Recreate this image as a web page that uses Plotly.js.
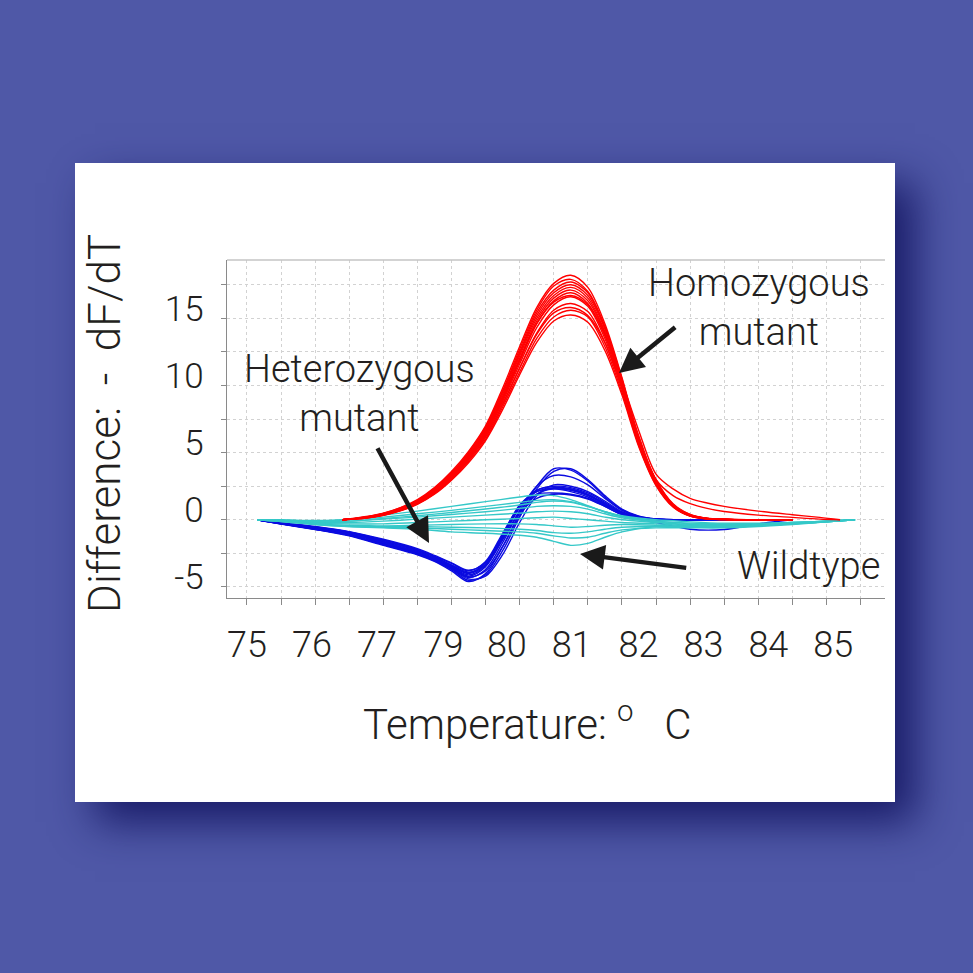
<!DOCTYPE html>
<html>
<head>
<meta charset="utf-8">
<script src="https://cdn.plot.ly/plotly-3.0.1.min.js"></script>
<style>
  html, body { margin: 0; padding: 0; background: #4F58A7; width: 973px; height: 973px; overflow: hidden; }
  #card { position: absolute; left: 75px; top: 163px; width: 820px; height: 639px; background: #ffffff;
          box-shadow: 20px 20px 40px rgba(22, 24, 100, 0.95); }
  #plot { position: absolute; left: 0; top: 0; width: 973px; height: 973px; }
</style>
</head>
<body>
<div id="card"></div>
<div id="plot"></div>
<script>
// ---------- tick labels ----------
const X_LABELS = ["75", "76", "77", "79", "80", "81", "82", "83", "84", "85"];
const Y_TICKS = [-5, 0, 5, 10, 15];
const Y_LABELS = ["-5", "0", "5", "10", "15"];

// ---------- Homozygous mutant (red) ----------
const RED_X = [76.4, 76.75, 77.0, 77.25, 77.5, 77.75, 78.0, 78.25, 78.5, 78.75, 79.0, 79.25, 79.5, 79.75, 80.0, 80.25, 80.5, 80.75, 81.0, 81.25, 81.5, 81.75, 82.0, 82.5, 83.0];
const RED_01 = [0, 0.25, 0.5, 0.9, 1.5, 2.4, 3.6, 5.1, 7.0, 9.8, 12.9, 15.8, 17.6, 18.2, 17.3, 14.6, 10.6, 6.1, 3.0, 1.2, 0.4, 0.12, 0.05, 0, 0];
const RED_02 = [0, 0.22, 0.48, 0.88, 1.45, 2.35, 3.5, 5.0, 6.9, 9.6, 12.7, 15.6, 17.4, 17.9, 17.0, 14.4, 10.5, 6.0, 2.95, 1.15, 0.38, 0.11, 0.04, 0, 0];
const RED_03 = [0, 0.2, 0.46, 0.85, 1.42, 2.3, 3.45, 4.95, 6.8, 9.5, 12.5, 15.4, 17.1, 17.7, 16.9, 14.3, 10.4, 5.95, 2.9, 1.12, 0.36, 0.1, 0.04, 0, 0];
const RED_04 = [0, 0.2, 0.45, 0.82, 1.38, 2.25, 3.4, 4.85, 6.7, 9.35, 12.35, 15.2, 16.9, 17.5, 16.7, 14.2, 10.3, 5.9, 2.85, 1.1, 0.35, 0.1, 0.03, 0, 0];
const RED_05 = [0, 0.18, 0.43, 0.8, 1.35, 2.2, 3.35, 4.8, 6.6, 9.2, 12.2, 15.0, 16.7, 17.3, 16.5, 14.0, 10.2, 5.85, 2.8, 1.08, 0.34, 0.1, 0.03, 0, 0];
const RED_06 = [0, 0.18, 0.42, 0.78, 1.32, 2.15, 3.3, 4.72, 6.5, 9.1, 12.0, 14.8, 16.5, 17.1, 16.3, 13.9, 10.1, 5.8, 2.78, 1.06, 0.33, 0.09, 0.03, 0, 0];
const RED_07 = [0, 0.17, 0.4, 0.76, 1.3, 2.1, 3.25, 4.65, 6.4, 8.95, 11.8, 14.6, 16.3, 16.9, 16.1, 13.7, 10.0, 5.75, 2.75, 1.05, 0.32, 0.09, 0.03, 0, 0];
const RED_08 = [0, 0.16, 0.38, 0.74, 1.27, 2.05, 3.2, 4.58, 6.3, 8.8, 11.6, 14.3, 16.0, 16.6, 15.9, 13.5, 9.9, 5.7, 2.7, 1.02, 0.3, 0.08, 0.02, 0, 0];
const RED_09 = [0, 0.15, 0.36, 0.7, 1.22, 2.0, 3.1, 4.45, 6.15, 8.6, 11.3, 13.9, 15.6, 16.1, 15.5, 13.2, 9.7, 5.6, 2.65, 1.0, 0.3, 0.08, 0.02, 0, 0];
const RED_10 = [0, 0.14, 0.34, 0.68, 1.18, 1.95, 3.0, 4.35, 6.0, 8.4, 11.0, 13.5, 15.1, 15.6, 15.1, 12.9, 9.5, 5.5, 2.6, 0.98, 0.28, 0.07, 0.02, 0, 0];
const RED_11 = [0, 0.14, 0.33, 0.66, 1.15, 1.9, 2.95, 4.25, 5.9, 8.2, 10.8, 13.2, 14.8, 15.25, 14.7, 12.6, 9.3, 5.4, 2.55, 0.95, 0.27, 0.07, 0.02, 0, 0];
// two curves with a long high-temperature tail
const RED_TAIL_X = [76.4, 76.75, 77.0, 77.25, 77.5, 77.75, 78.0, 78.25, 78.5, 78.75, 79.0, 79.25, 79.5, 79.75, 80.0, 80.25, 80.5, 80.75, 81.0, 81.25, 81.5, 81.75, 82.0, 82.5, 83.0, 83.4, 83.7];
const RED_T1 = [0, 0.18, 0.42, 0.78, 1.3, 2.1, 3.25, 4.7, 6.5, 9.0, 11.9, 14.6, 16.2, 16.7, 16.0, 13.8, 10.3, 6.6, 3.4, 2.3, 1.6, 1.25, 1.0, 0.65, 0.38, 0.18, 0];
const RED_T2 = [0, 0.16, 0.38, 0.72, 1.22, 2.0, 3.1, 4.5, 6.2, 8.6, 11.3, 13.8, 15.4, 15.8, 15.2, 13.2, 9.9, 6.2, 3.0, 1.8, 1.2, 0.85, 0.62, 0.35, 0.18, 0.05, 0];

// ---------- Heterozygous mutant (blue) ----------
const BLUE_X = [75.15, 75.5, 76.0, 76.5, 77.0, 77.5, 77.75, 78.0, 78.25, 78.5, 78.75, 79.0, 79.25, 79.5, 79.75, 80.0, 80.25, 80.5, 80.75, 81.0, 81.5, 82.0, 82.5, 83.0];
const BLUE_01 = [0, -0.3, -0.7, -1.2, -1.9, -2.6, -3.1, -3.8, -4.6, -4.0, -2.0, 0.5, 2.5, 3.8, 3.7, 2.9, 1.7, 0.75, 0.25, 0.06, 0, 0, 0, 0];
const BLUE_02 = [0, -0.32, -0.72, -1.15, -1.85, -2.55, -3.05, -3.7, -4.5, -4.1, -2.3, 0.2, 2.3, 3.6, 3.8, 3.0, 1.8, 0.8, 0.28, 0.07, 0, 0, 0, 0];
const BLUE_03 = [0, -0.3, -0.68, -1.1, -1.8, -2.5, -3.0, -3.6, -4.3, -3.7, -1.7, 0.7, 2.5, 3.3, 3.2, 2.6, 1.6, 0.7, 0.22, 0.05, 0, 0, 0, 0];
const BLUE_04 = [0, -0.28, -0.65, -1.05, -1.75, -2.45, -2.95, -3.55, -4.2, -3.5, -1.4, 0.9, 2.2, 2.5, 2.4, 2.0, 1.3, 0.55, 0.18, 0.04, 0, 0, 0, 0];
const BLUE_05 = [0, -0.27, -0.62, -1.0, -1.7, -2.4, -2.9, -3.5, -4.1, -3.4, -1.3, 1.0, 2.2, 2.45, 2.3, 1.9, 1.2, 0.5, 0.15, 0.03, 0, 0, 0, 0];
const BLUE_06 = [0, -0.26, -0.6, -0.98, -1.65, -2.35, -2.85, -3.45, -4.0, -3.3, -1.2, 1.0, 2.1, 2.35, 2.25, 1.85, 1.15, 0.45, 0.12, 0.03, 0, 0, 0, 0];
const BLUE_07 = [0, -0.25, -0.58, -0.95, -1.6, -2.3, -2.8, -3.4, -3.95, -3.2, -1.1, 1.1, 2.1, 2.3, 2.1, 1.7, 1.05, 0.4, 0.1, 0.02, 0, 0, 0, 0];
const BLUE_08 = [0, -0.24, -0.55, -0.92, -1.55, -2.25, -2.75, -3.35, -3.9, -3.35, -1.5, 0.6, 1.9, 2.4, 2.3, 1.9, 1.2, 0.5, 0.15, 0.03, 0, 0, 0, 0];
const BLUE_09 = [0, -0.23, -0.52, -0.9, -1.5, -2.2, -2.7, -3.25, -3.8, -3.1, -1.0, 1.0, 1.9, 2.0, 1.9, 1.6, 1.0, 0.4, 0.1, 0.02, 0, 0, 0, 0];
const BLUE_10 = [0, -0.22, -0.5, -0.88, -1.45, -2.15, -2.65, -3.2, -3.75, -3.2, -1.4, 0.5, 1.6, 1.9, 1.85, 1.55, 1.0, 0.4, 0.1, -0.2, -0.7, -0.72, -0.3, 0];
const BLUE_11 = [0, -0.3, -0.7, -1.15, -1.85, -2.55, -3.0, -3.65, -4.4, -4.2, -2.6, -0.2, 1.8, 2.6, 2.5, 2.1, 1.4, 0.6, 0.2, 0.05, 0, 0, 0, 0];
const BLUE_12 = [0, -0.26, -0.6, -1.0, -1.7, -2.4, -2.9, -3.5, -4.25, -3.8, -2.0, 0.3, 1.9, 2.3, 2.2, 1.8, 1.1, 0.45, 0.12, 0.02, 0, 0, 0, 0];

// ---------- Wildtype (cyan) ----------
const CYAN_X = [75.15, 75.5, 76.0, 76.5, 77.0, 77.5, 78.0, 78.5, 79.0, 79.25, 79.5, 79.75, 80.0, 80.25, 80.5, 81.0, 81.5, 82.0, 82.5, 83.0, 83.5, 83.92];
const CYAN_01 = [0, 0, -0.05, 0.05, 0.35, 0.65, 1.0, 1.35, 1.7, 1.85, 1.8, 1.5, 1.05, 0.6, 0.25, -0.1, -0.25, -0.3, -0.3, -0.2, -0.1, 0];
const CYAN_02 = [0, -0.02, -0.1, 0, 0.2, 0.45, 0.7, 1.0, 1.3, 1.45, 1.5, 1.35, 1.0, 0.6, 0.25, -0.1, -0.3, -0.35, -0.3, -0.2, -0.1, 0];
const CYAN_03 = [0, -0.05, -0.15, -0.1, 0.05, 0.2, 0.4, 0.6, 0.85, 1.0, 1.05, 1.0, 0.8, 0.45, 0.15, -0.15, -0.35, -0.4, -0.35, -0.25, -0.1, 0];
const CYAN_04 = [0, -0.05, -0.2, -0.2, -0.1, 0.05, 0.2, 0.35, 0.5, 0.6, 0.65, 0.6, 0.45, 0.2, 0, -0.2, -0.4, -0.45, -0.4, -0.25, -0.12, 0];
const CYAN_05 = [0, -0.08, -0.25, -0.3, -0.3, -0.2, -0.1, 0.0, 0.1, 0.15, 0.2, 0.1, 0.0, -0.1, -0.2, -0.3, -0.45, -0.5, -0.4, -0.3, -0.15, 0];
const CYAN_06 = [0, -0.1, -0.3, -0.4, -0.45, -0.4, -0.35, -0.3, -0.3, -0.35, -0.45, -0.55, -0.5, -0.4, -0.35, -0.4, -0.5, -0.55, -0.45, -0.3, -0.15, 0];
const CYAN_07 = [0, -0.1, -0.3, -0.45, -0.5, -0.5, -0.55, -0.6, -0.7, -0.8, -0.95, -1.0, -0.9, -0.7, -0.55, -0.5, -0.55, -0.55, -0.45, -0.3, -0.15, 0];
const CYAN_08 = [0, -0.12, -0.35, -0.5, -0.55, -0.6, -0.7, -0.8, -0.9, -1.0, -1.2, -1.35, -1.3, -1.0, -0.75, -0.6, -0.6, -0.6, -0.5, -0.35, -0.15, 0];
const CYAN_09 = [0, -0.12, -0.35, -0.5, -0.6, -0.7, -0.9, -1.0, -1.15, -1.3, -1.6, -1.9, -1.75, -1.3, -0.9, -0.5, -0.5, -0.5, -0.45, -0.3, -0.15, 0];
const CYAN_10 = [0, -0.05, -0.15, -0.1, 0.1, 0.3, 0.55, 0.8, 1.1, 1.3, 1.4, 1.3, 1.0, 0.6, 0.3, 0.0, -0.15, -0.25, -0.25, -0.2, -0.1, 0];

// ---------- build traces ----------
const FONT = "Roboto, 'Liberation Sans', Arial, sans-serif";
const TXT = "#231f20";
const groups = [
  { x: BLUE_X, ys: [BLUE_01, BLUE_02, BLUE_03, BLUE_04, BLUE_05, BLUE_06, BLUE_07, BLUE_08, BLUE_09, BLUE_10, BLUE_11, BLUE_12], color: "#0b0be0", name: "Heterozygous mutant" },
  { x: CYAN_X, ys: [CYAN_01, CYAN_02, CYAN_03, CYAN_04, CYAN_05, CYAN_06, CYAN_07, CYAN_08, CYAN_09, CYAN_10], color: "#35c8c8", name: "Wildtype" },
  { x: RED_X, ys: [RED_01, RED_02, RED_03, RED_04, RED_05, RED_06, RED_07, RED_08, RED_09, RED_10, RED_11], color: "#ff0000", name: "Homozygous mutant" },
  { x: RED_TAIL_X, ys: [RED_T1, RED_T2], color: "#ff0000", name: "Homozygous mutant" }
];
const traces = [];
groups.forEach(g => {
  g.ys.forEach(y => {
    traces.push({ type: "scatter", mode: "lines", x: g.x, y: y, name: g.name,
      line: { color: g.color, width: 1.4, shape: "spline", smoothing: 0.9 },
      hoverinfo: "skip", showlegend: false });
  });
});

const X_RANGE = [74.707, 84.359];
const X_LABEL_POS = [75.0, 75.953, 76.906, 77.883, 78.812, 79.765, 80.742, 81.695, 82.648, 83.601];
// invisible carrier so the label axis is drawn
traces.push({ type: "scatter", mode: "markers", x: [X_LABEL_POS[0]], y: [0], xaxis: "x2",
  marker: { opacity: 0 }, hoverinfo: "skip", showlegend: false });

const gridCol = "#d2d2d2";
const layout = {
  width: 973, height: 973,
  margin: { l: 227, r: 88, t: 260, b: 375 },
  paper_bgcolor: "rgba(0,0,0,0)",
  plot_bgcolor: "#ffffff",
  showlegend: false,
  font: { family: FONT, color: TXT, weight: 300 },
  xaxis: {
    range: X_RANGE, tick0: 75, dtick: 0.5, showticklabels: false,
    ticks: "outside", ticklen: 6, tickcolor: "#8a8a8a", tickwidth: 1,
    showgrid: true, gridcolor: gridCol, griddash: "3px,3px", gridwidth: 1,
    showline: true, linecolor: "#8a8a8a", linewidth: 1.3, zeroline: false
  },
  xaxis2: {
    overlaying: "x", anchor: "y", side: "bottom", range: X_RANGE,
    tickmode: "array", tickvals: X_LABEL_POS, ticktext: X_LABELS,
    ticks: "", showgrid: false, showline: false, zeroline: false,
    tickfont: { size: 36, family: FONT, color: TXT, weight: 300 },
    ticklabelstandoff: 22
  },
  yaxis: {
    range: [-5.82, 19.34], tickmode: "array", tickvals: Y_TICKS, ticktext: Y_LABELS,
    ticks: "outside", ticklen: 5, tickcolor: "#8a8a8a",
    showgrid: true, gridcolor: gridCol, griddash: "3px,3px", gridwidth: 1,
    showline: true, linecolor: "#8a8a8a", linewidth: 1.3, zeroline: false,
    tickfont: { size: 35, family: FONT, color: TXT, weight: 300 },
    ticklabelstandoff: 10, ticklabelshift: -10,
    minor: { tickvals: [-2.5, 2.5, 7.5, 12.5, 17.5], ticks: "outside", ticklen: 5, tickcolor: "#8a8a8a",
             showgrid: true, gridcolor: gridCol, griddash: "3px,3px", gridwidth: 1 }
  },
  shapes: [
    { type: "line", xref: "paper", yref: "paper", x0: 0, x1: 1, y0: 1, y1: 1,
      line: { color: "#c4c4c4", width: 1.5 } }
  ],
  annotations: [
    { text: "Difference:&nbsp; -&nbsp; dF/dT", xref: "paper", yref: "paper", x: -0.1854, y: 0.515,
      textangle: -90, showarrow: false, xanchor: "center", yanchor: "middle",
      font: { size: 44, family: FONT, color: TXT, weight: 300 } },
    { text: "Temperature: <sup>o</sup>&nbsp;&nbsp; C", xref: "paper", yref: "paper", x: 0.456, y: -0.364,
      showarrow: false, xanchor: "center", yanchor: "middle",
      font: { size: 42, family: FONT, color: TXT, weight: 300 } },
    { text: "Homozygous<br>mutant", xref: "paper", yref: "paper", x: 0.8085, y: 0.858,
      showarrow: false, xanchor: "center", yanchor: "middle", align: "center",
      font: { size: 38, family: FONT, color: TXT, weight: 300 } },
    { text: "Heterozygous<br>mutant", xref: "paper", yref: "paper", x: 0.2021, y: 0.6065,
      showarrow: false, xanchor: "center", yanchor: "middle", align: "center",
      font: { size: 38, family: FONT, color: TXT, weight: 300 } },
    { text: "Wildtype", xref: "paper", yref: "paper", x: 0.883, y: 0.0947,
      showarrow: false, xanchor: "center", yanchor: "middle",
      font: { size: 38, family: FONT, color: TXT, weight: 300 } },
    // arrows
    { text: "", xref: "paper", yref: "paper", x: 0.5957, y: 0.6657, ax: 57.7, ay: -47,
      showarrow: true, arrowhead: 2, arrowsize: 1.1, arrowwidth: 4.5, arrowcolor: "#1a1a1a", standoff: 0 },
    { text: "", xref: "paper", yref: "paper", x: 0.307, y: 0.1627, ax: -52.3, ay: -96.3,
      showarrow: true, arrowhead: 2, arrowsize: 1.1, arrowwidth: 4.5, arrowcolor: "#1a1a1a", standoff: 0 },
    { text: "", xref: "paper", yref: "paper", x: 0.5365, y: 0.130, ax: 107.7, ay: 14,
      showarrow: true, arrowhead: 2, arrowsize: 1.1, arrowwidth: 4.5, arrowcolor: "#1a1a1a", standoff: 0 }
  ]
};

Plotly.newPlot("plot", traces, layout, { staticPlot: true, displayModeBar: false });
</script>
</body>
</html>
